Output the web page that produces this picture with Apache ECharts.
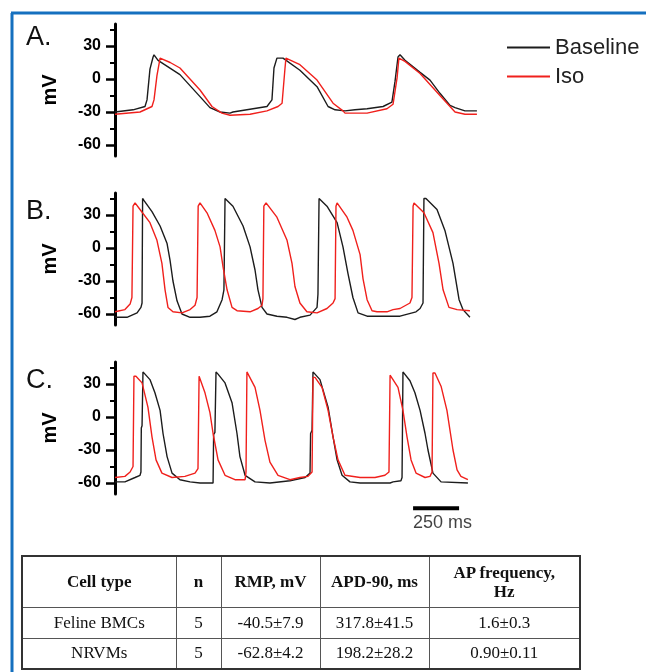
<!DOCTYPE html>
<html>
<head>
<meta charset="utf-8">
<script src="https://cdn.jsdelivr.net/npm/echarts@6/dist/echarts.min.js"></script>
<style>
  html, body { margin: 0; padding: 0; background: #fff; }
  #chart { position: absolute; left: 0; top: 0; width: 646px; height: 672px; }
  #stats {
    position: absolute; left: 21px; top: 555px; width: 558px;
    border-collapse: collapse; border: 2px solid #333; table-layout: fixed;
    font-family: "Liberation Serif", "Times New Roman", serif; color: #111;
  }
  #stats td, #stats th { border: 1px solid #555; text-align: center; padding: 0; box-sizing: border-box; }
  #stats th { font-size: 17px; font-weight: bold; height: 51px; line-height: 19px; }
  #stats td { font-size: 17px; height: 31px; line-height: 20px; }
</style>
</head>
<body>
<div id="chart"></div>
<table id="stats"></table>
<script>
// traces: [time ms, membrane potential mV]
const baselineA = [[0,-30],[98,-28],[163,-25],[174,-19],[190,9],[207,20],[212,22],[234,17],[353,4],[462,-16],[516,-26],[571,-30],[625,-31],[641,-30],[826,-25],[853,-19],[864,10],[880,19],[913,19],[1005,8],[1098,-7],[1158,-25],[1196,-28],[1250,-29],[1304,-28],[1370,-27],[1457,-25],[1505,-21],[1522,-2],[1538,20],[1549,22],[1576,17],[1658,6],[1712,-1],[1766,-13],[1821,-24],[1848,-26],[1902,-29],[1967,-29]]
const isoA = [[0,-32],[136,-30],[201,-25],[212,-19],[228,3],[245,19],[300,15],[353,10],[462,-10],[527,-25],[581,-31],[625,-33],[734,-32],[826,-29],[886,-25],[908,-22],[924,10],[929,19],[935,19],[1005,13],[1098,-1],[1185,-22],[1239,-29],[1250,-31],[1370,-31],[1478,-27],[1511,-23],[1533,1],[1543,19],[1576,16],[1658,5],[1766,-15],[1848,-30],[1902,-32],[1967,-32]]

const baselineB = [[0,-63],[65,-63],[120,-59],[141,-54],[147,-50],[150,45],[158,43],[201,33],[245,20],[283,4],[299,-11],[315,-30],[337,-48],[364,-60],[408,-63],[462,-63],[516,-62],[554,-58],[582,-47],[592,-38],[598,45],[603,45],[641,38],[696,20],[734,1],[761,-20],[777,-38],[799,-54],[826,-60],[880,-62],[935,-63],[978,-65],[1005,-63],[1060,-61],[1098,-54],[1103,-42],[1109,45],[1114,45],[1152,38],[1207,23],[1239,1],[1266,-23],[1293,-45],[1321,-59],[1370,-62],[1457,-62],[1549,-62],[1636,-58],[1658,-55],[1674,-50],[1679,45],[1690,45],[1750,35],[1793,16],[1837,-14],[1870,-47],[1891,-56],[1929,-63]]
const isoB = [[0,-58],[54,-56],[82,-51],[92,-45],[98,38],[109,41],[136,35],[190,23],[228,7],[255,-14],[272,-38],[288,-54],[315,-58],[364,-59],[408,-56],[435,-52],[446,-45],[452,38],[462,41],[500,32],[543,16],[571,1],[587,-17],[609,-38],[636,-54],[663,-57],[734,-58],[777,-55],[799,-52],[804,-46],[809,38],[821,41],[880,28],[935,7],[962,-14],[978,-35],[1005,-50],[1043,-58],[1098,-59],[1152,-55],[1185,-50],[1196,-46],[1201,38],[1207,41],[1261,28],[1293,16],[1332,-6],[1348,-28],[1370,-47],[1397,-57],[1424,-58],[1478,-58],[1511,-56],[1549,-55],[1603,-50],[1614,-45],[1620,38],[1625,41],[1679,32],[1728,14],[1761,-14],[1783,-38],[1815,-54],[1859,-56],[1929,-57]]

const baselineC = [[0,-59],[54,-59],[109,-55],[136,-53],[141,-50],[143,-10],[147,-8],[152,41],[158,40],[190,34],[217,22],[245,6],[261,-15],[283,-36],[310,-51],[353,-57],[408,-59],[462,-60],[533,-60],[536,-16],[543,-14],[549,41],[560,39],[598,31],[636,13],[663,-15],[679,-36],[707,-53],[761,-59],[842,-60],[951,-58],[1033,-55],[1060,-51],[1063,-15],[1071,-12],[1076,41],[1114,34],[1158,9],[1185,-18],[1207,-39],[1234,-53],[1277,-59],[1332,-60],[1495,-60],[1511,-59],[1554,-58],[1560,-55],[1565,41],[1571,41],[1603,33],[1630,22],[1658,6],[1685,-15],[1701,-30],[1728,-51],[1772,-59],[1918,-60]]
const isoC = [[0,-55],[54,-54],[82,-50],[98,-45],[103,37],[114,37],[147,31],[179,9],[201,-18],[223,-39],[255,-51],[310,-55],[380,-54],[435,-51],[451,-47],[457,37],[462,37],[489,22],[516,4],[533,-15],[560,-39],[598,-53],[652,-57],[707,-57],[712,-50],[717,41],[723,41],[761,27],[788,6],[815,-21],[842,-41],[886,-53],[951,-57],[1005,-55],[1049,-54],[1071,-50],[1076,36],[1087,36],[1125,27],[1158,6],[1185,-18],[1212,-39],[1250,-53],[1332,-55],[1413,-55],[1467,-53],[1489,-50],[1495,38],[1505,38],[1538,27],[1565,6],[1587,-18],[1609,-39],[1636,-51],[1685,-55],[1712,-54],[1723,-50],[1728,40],[1739,40],[1772,28],[1804,6],[1837,-30],[1859,-48],[1880,-54],[1918,-57]]

const yMajorTicks = [-60, -30, 0, 30]
const yMinorTicks = [-45, -15, 15, 45]
const panelLetters = ['A.', 'B.', 'C.']
const seriesNames = ['Baseline', 'Iso']

// 250 ms scale bar under panel C
const scaleBarMs = [1620, 1870]
const scaleBarLevel = -83
const scaleLabelLevel = -96
const scaleLabel = '250 ms'

const tableHeader = ['Cell type', 'n', 'RMP, mV', 'APD-90, ms', 'AP frequency,<br>Hz']
const felineRow = ['Feline BMCs', '5', '-40.5±7.9', '317.8±41.5', '1.6±0.3']
const nrvmRow = ['NRVMs', '5', '-62.8±4.2', '198.2±28.2', '0.90±0.11']
const colWidths = [154, 45, 99, 109, 151]

const FONT = '"Liberation Sans", Arial, sans-serif'
const BLACK = '#1c1c1c'
const RED = '#f0201c'
const gridTops = [24, 193, 362]
const letterTops = [24, 198, 367]

const chart = echarts.init(document.getElementById('chart'))

const grids = gridTops.map((top) => ({ left: 115, top, width: 368, height: 132 }))
const xAxes = gridTops.map((_, i) => ({ gridIndex: i, type: 'value', min: 0, max: 2000, show: false }))
const yAxes = []
gridTops.forEach((_, i) => {
  yAxes.push({
    gridIndex: i, type: 'value', min: -70, max: 50, position: 'left',
    name: 'mV', nameLocation: 'middle', nameGap: 55, nameRotate: 90,
    nameTextStyle: { fontSize: 20, fontWeight: 'bold', color: '#000', fontFamily: FONT },
    axisLine: { show: true, lineStyle: { color: '#000', width: 3 } },
    axisTick: { show: true, customValues: yMajorTicks, length: 9, lineStyle: { color: '#000', width: 2.5 } },
    axisLabel: { customValues: yMajorTicks, fontSize: 16, fontWeight: 'bold', color: '#000', fontFamily: FONT, margin: 14 },
    splitLine: { show: false }
  })
  yAxes.push({
    gridIndex: i, type: 'value', min: -70, max: 50, position: 'left',
    axisLine: { show: false },
    axisTick: { show: true, customValues: yMinorTicks, length: 5, lineStyle: { color: '#000', width: 2 } },
    axisLabel: { show: false },
    splitLine: { show: false }
  })
})

function trace(name, data, gi, color) {
  return {
    name, type: 'line', xAxisIndex: gi, yAxisIndex: gi * 2, data,
    symbol: 'none', silent: true,
    lineStyle: { color, width: 1.4 },
    itemStyle: { color }
  }
}

const series = [
  trace('Baseline', baselineA, 0, BLACK), trace('Iso', isoA, 0, RED),
  trace('Baseline', baselineB, 1, BLACK), trace('Iso', isoB, 1, RED),
  trace('Baseline', baselineC, 2, BLACK), trace('Iso', isoC, 2, RED),
  {
    type: 'line', xAxisIndex: 2, yAxisIndex: 4, clip: false, silent: true, symbol: 'none',
    data: scaleBarMs.map((t) => [t, scaleBarLevel]),
    lineStyle: { color: '#000', width: 4 }
  },
  {
    type: 'scatter', xAxisIndex: 2, yAxisIndex: 4, clip: false, silent: true, symbolSize: 0,
    data: [[scaleBarMs[0], scaleLabelLevel]],
    label: { show: true, position: [0, 0], align: 'left', verticalAlign: 'middle', formatter: scaleLabel, fontSize: 18, color: '#111', fontFamily: FONT }
  }
]

chart.setOption({
  animation: false,
  title: panelLetters.map((txt, i) => ({
    text: txt, left: 26, top: letterTops[i], padding: 0,
    textStyle: { fontSize: 27, fontWeight: 'normal', color: '#111', fontFamily: FONT }
  })),
  legend: {
    data: seriesNames, orient: 'vertical', left: 502, top: 28,
    icon: 'rect', itemWidth: 43, itemHeight: 2, itemGap: 0,
    textStyle: { fontSize: 22, color: '#222', fontFamily: FONT, lineHeight: 29 }
  },
  grid: grids,
  xAxis: xAxes,
  yAxis: yAxes,
  series,
  graphic: [
    { type: 'line', shape: { x1: 12, y1: 13, x2: 12, y2: 672 }, style: { stroke: '#1570bf', lineWidth: 3 } },
    { type: 'line', shape: { x1: 11, y1: 13, x2: 646, y2: 13 }, style: { stroke: '#1570bf', lineWidth: 3 } }
  ]
})

// table under the traces
const table = document.getElementById('stats')
const cols = colWidths.map((w) => `<col style="width:${w}px">`).join('')
const head = '<tr>' + tableHeader.map((h) => `<th>${h}</th>`).join('') + '</tr>'
const body = [felineRow, nrvmRow].map((r) => '<tr>' + r.map((c) => `<td>${c}</td>`).join('') + '</tr>').join('')
table.innerHTML = cols + head + body
</script>
</body>
</html>
